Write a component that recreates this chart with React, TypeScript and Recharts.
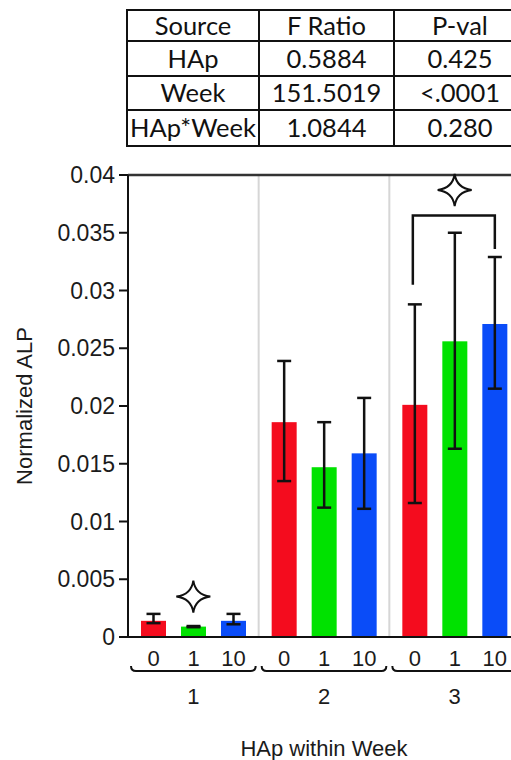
import React from 'react';
import { ComposedChart, Bar, ErrorBar, XAxis, YAxis, ReferenceLine, LabelList, Scatter } from 'recharts';

// categories
const WEEKS = ['1', '2', '3'];
const HAP_LEVELS = ['0', '1', '10'];
const HAP_COLORS = ['#f40c1e', '#00e200', '#0a4cf8'];

// mean normalized ALP, one array per HAp level (index = week)
const MEAN_HAP0 = [0.0014, 0.0186, 0.0201];
const MEAN_HAP1 = [0.0009, 0.0147, 0.0256];
const MEAN_HAP10 = [0.0014, 0.0159, 0.0271];

// error bar ends (low / high)
const LOW_HAP0 = [0.0012, 0.0135, 0.0116];
const HIGH_HAP0 = [0.002, 0.0239, 0.0288];
const LOW_HAP1 = [0.00085, 0.0112, 0.0163];
const HIGH_HAP1 = [0.00095, 0.0186, 0.035];
const LOW_HAP10 = [0.0011, 0.0111, 0.0215];
const HIGH_HAP10 = [0.002, 0.0207, 0.0329];

// significance marks
const STAR_LEVEL = [0.0035, null, 0.0387];
const BRACKET_LEFT = [null, null, 0.0305];
const BRACKET_TOP = [null, null, 0.0365];
const BRACKET_RIGHT = [null, null, 0.0336];

const Y_TICKS = [0, 0.005, 0.01, 0.015, 0.02, 0.025, 0.03, 0.035, 0.04];

// ANOVA table
const TABLE_HEAD = ['Source', 'F Ratio', 'P-val'];
const TABLE_SOURCE = ['HAp', 'Week', 'HAp*Week'];
const TABLE_F = ['0.5884', '151.5019', '1.0844'];
const TABLE_P = ['0.425', '<.0001', '0.280'];

const MEANS = [MEAN_HAP0, MEAN_HAP1, MEAN_HAP10];
const LOWS = [LOW_HAP0, LOW_HAP1, LOW_HAP10];
const HIGHS = [HIGH_HAP0, HIGH_HAP1, HIGH_HAP10];

const data = WEEKS.map((week, i) => {
  const row: any = {
    week,
    star: STAR_LEVEL[i],
    bracketLeft: BRACKET_LEFT[i],
    bracketTop: BRACKET_TOP[i],
    bracketRight: BRACKET_RIGHT[i],
  };
  HAP_LEVELS.forEach((_, j) => {
    row['m' + j] = MEANS[j][i];
    row['e' + j] = [MEANS[j][i] - LOWS[j][i], HIGHS[j][i] - MEANS[j][i]];
  });
  return row;
});

const CHART_W = 530;
const CHART_H = 760;
const MARGIN = { top: 175, right: 10, bottom: 0, left: 0 };
const Y_AXIS_W = 128;
const X_AXIS_H = 123;
const BAR_SIZE = 25;
const BAR_GAP = 15;
const BAND = (CHART_W - MARGIN.left - MARGIN.right - Y_AXIS_W) / WEEKS.length;

const FONT = '"Liberation Sans", Arial, sans-serif';
const TEXT = '#1b1b1b';
const INK = '#111';

const starPath = (cx: number, cy: number) => {
  const rx = 17, ry = 16, c = 2;
  return `M${cx},${cy - ry} Q${cx + c},${cy - c} ${cx + rx},${cy} Q${cx + c},${cy + c} ${cx},${cy + ry} ` +
    `Q${cx - c},${cy + c} ${cx - rx},${cy} Q${cx - c},${cy - c} ${cx},${cy - ry} Z`;
};

// bar rect, plus the bracket on the first series
const BarShape = (props: any) => {
  const { x, y, width, height, fill, payload, series } = props;
  const base = y + height;
  const k = height / payload['m' + series];
  const cx = x + width / 2;
  const hasBracket = series === 0 && payload.bracketTop != null;
  const rx = cx + 2 * (BAR_SIZE + BAR_GAP);
  return (
    <g>
      <rect x={x} y={y} width={width} height={height} fill={fill} />
      {hasBracket && (
        <path
          d={`M${cx - 2},${base - payload.bracketLeft * k} L${cx - 2},${base - payload.bracketTop * k} L${rx},${base - payload.bracketTop * k} L${rx},${base - payload.bracketRight * k}`}
          stroke={INK}
          strokeWidth={2.5}
          fill="none"
        />
      )}
    </g>
  );
};

const StarShape = (props: any) => {
  const { cx, cy, payload } = props;
  if (payload.star == null || cx == null || cy == null) return <g />;
  return <path d={starPath(cx, cy)} fill="#fff" stroke={INK} strokeWidth={2} />;
};

const hapLabel = (j: number) => (props: any) => {
  const { x, y, width, height } = props;
  return (
    <text x={x + width / 2} y={y + height + 29} textAnchor="middle" fontSize={22} fontFamily={FONT} fill={TEXT}>
      {HAP_LEVELS[j]}
    </text>
  );
};

const WeekTick = (props: any) => {
  const { x, y, payload } = props;
  const x1 = x - BAND / 2 + 3;
  const x2 = x + BAND / 2 - 3;
  const by = y + 26;
  return (
    <g>
      <path
        d={`M${x1},${by - 5} Q${x1},${by} ${x1 + 5},${by} L${x2 - 5},${by} Q${x2},${by} ${x2},${by - 5}`}
        stroke={INK}
        strokeWidth={2}
        fill="none"
      />
      <text x={x} y={by + 33} textAnchor="middle" fontSize={22} fontFamily={FONT} fill={TEXT}>
        {payload.value}
      </text>
    </g>
  );
};

const YLabel = (props: any) => {
  const vb = props.viewBox || {};
  const cy = (vb.y || 0) + (vb.height || 0) / 2;
  const cx = 24;
  return (
    <text
      x={cx}
      y={cy}
      transform={`rotate(-90, ${cx}, ${cy})`}
      textAnchor="middle"
      dominantBaseline="central"
      fontSize={22}
      fontFamily={FONT}
      fill={TEXT}
    >
      Normalized ALP
    </text>
  );
};

const XLabel = (props: any) => {
  const vb = props.viewBox || {};
  const cx = (vb.x || 0) + (vb.width || 0) / 2;
  const cy = (vb.y || 0) + 111;
  return (
    <text x={cx} y={cy} textAnchor="middle" dominantBaseline="central" fontSize={22} fontFamily={FONT} fill={TEXT}>
      HAp within Week
    </text>
  );
};

const cell: React.CSSProperties = {
  border: '2px solid #111',
  textAlign: 'center',
  padding: 0,
  lineHeight: 1,
  whiteSpace: 'nowrap',
};

const App = () => {
  const colW = [130, 133, 130];
  const rowH = [31, 35, 34, 36];
  return (
    <div style={{ position: 'absolute', left: 0, top: 0, width: 511, height: 760, overflow: 'hidden', background: '#fff' }}>
      <table
        style={{
          position: 'absolute',
          left: 126,
          top: 9,
          width: colW[0] + colW[1] + colW[2],
          borderCollapse: 'collapse',
          fontFamily: 'Lato, "Open Sans", sans-serif',
          fontSize: 25.5,
          color: '#111',
          tableLayout: 'fixed',
        }}
      >
        <tbody>
          <tr style={{ height: rowH[0] }}>
            {TABLE_HEAD.map((h, c) => (
              <td key={h} style={{ ...cell, width: colW[c] }}>{h}</td>
            ))}
          </tr>
          {TABLE_SOURCE.map((s, r) => (
            <tr key={s} style={{ height: rowH[r + 1] }}>
              <td style={{ ...cell, width: colW[0] }}>{s}</td>
              <td style={{ ...cell, width: colW[1] }}>{TABLE_F[r]}</td>
              <td style={{ ...cell, width: colW[2] }}>{TABLE_P[r]}</td>
            </tr>
          ))}
        </tbody>
      </table>

      <div style={{ position: 'absolute', left: 0, top: 0 }}>
        <ComposedChart width={CHART_W} height={CHART_H} data={data} margin={MARGIN} barSize={BAR_SIZE} barGap={BAR_GAP}>
          <XAxis
            dataKey="week"
            height={X_AXIS_H}
            axisLine={{ stroke: INK, strokeWidth: 2 }}
            tickLine={false}
            tick={<WeekTick />}
            interval={0}
            label={<XLabel />}
          />
          <YAxis
            width={Y_AXIS_W}
            domain={[0, 0.04]}
            ticks={Y_TICKS}
            interval={0}
            axisLine={{ stroke: INK, strokeWidth: 2 }}
            tickLine={{ stroke: INK, strokeWidth: 2 }}
            tickSize={9}
            tickMargin={4}
            tick={{ fontSize: 23, fontFamily: FONT, fill: TEXT }}
            label={<YLabel />}
          />
          {WEEKS.slice(1).map((w) => (
            <ReferenceLine key={w} x={w} position="start" stroke="#d6d6d6" strokeWidth={2} />
          ))}
          <ReferenceLine y={0.04} stroke="#333" strokeWidth={2.5} />
          {HAP_LEVELS.map((h, j) => (
            <Bar
              key={h}
              dataKey={'m' + j}
              fill={HAP_COLORS[j]}
              isAnimationActive={false}
              shape={(p: any) => <BarShape {...p} series={j} />}
            >
              <ErrorBar dataKey={'e' + j} width={7} strokeWidth={2.5} stroke={INK} />
              <LabelList content={hapLabel(j)} />
            </Bar>
          ))}
          <Scatter dataKey="star" isAnimationActive={false} shape={<StarShape />} />
        </ComposedChart>
      </div>
    </div>
  );
};

export default App;
